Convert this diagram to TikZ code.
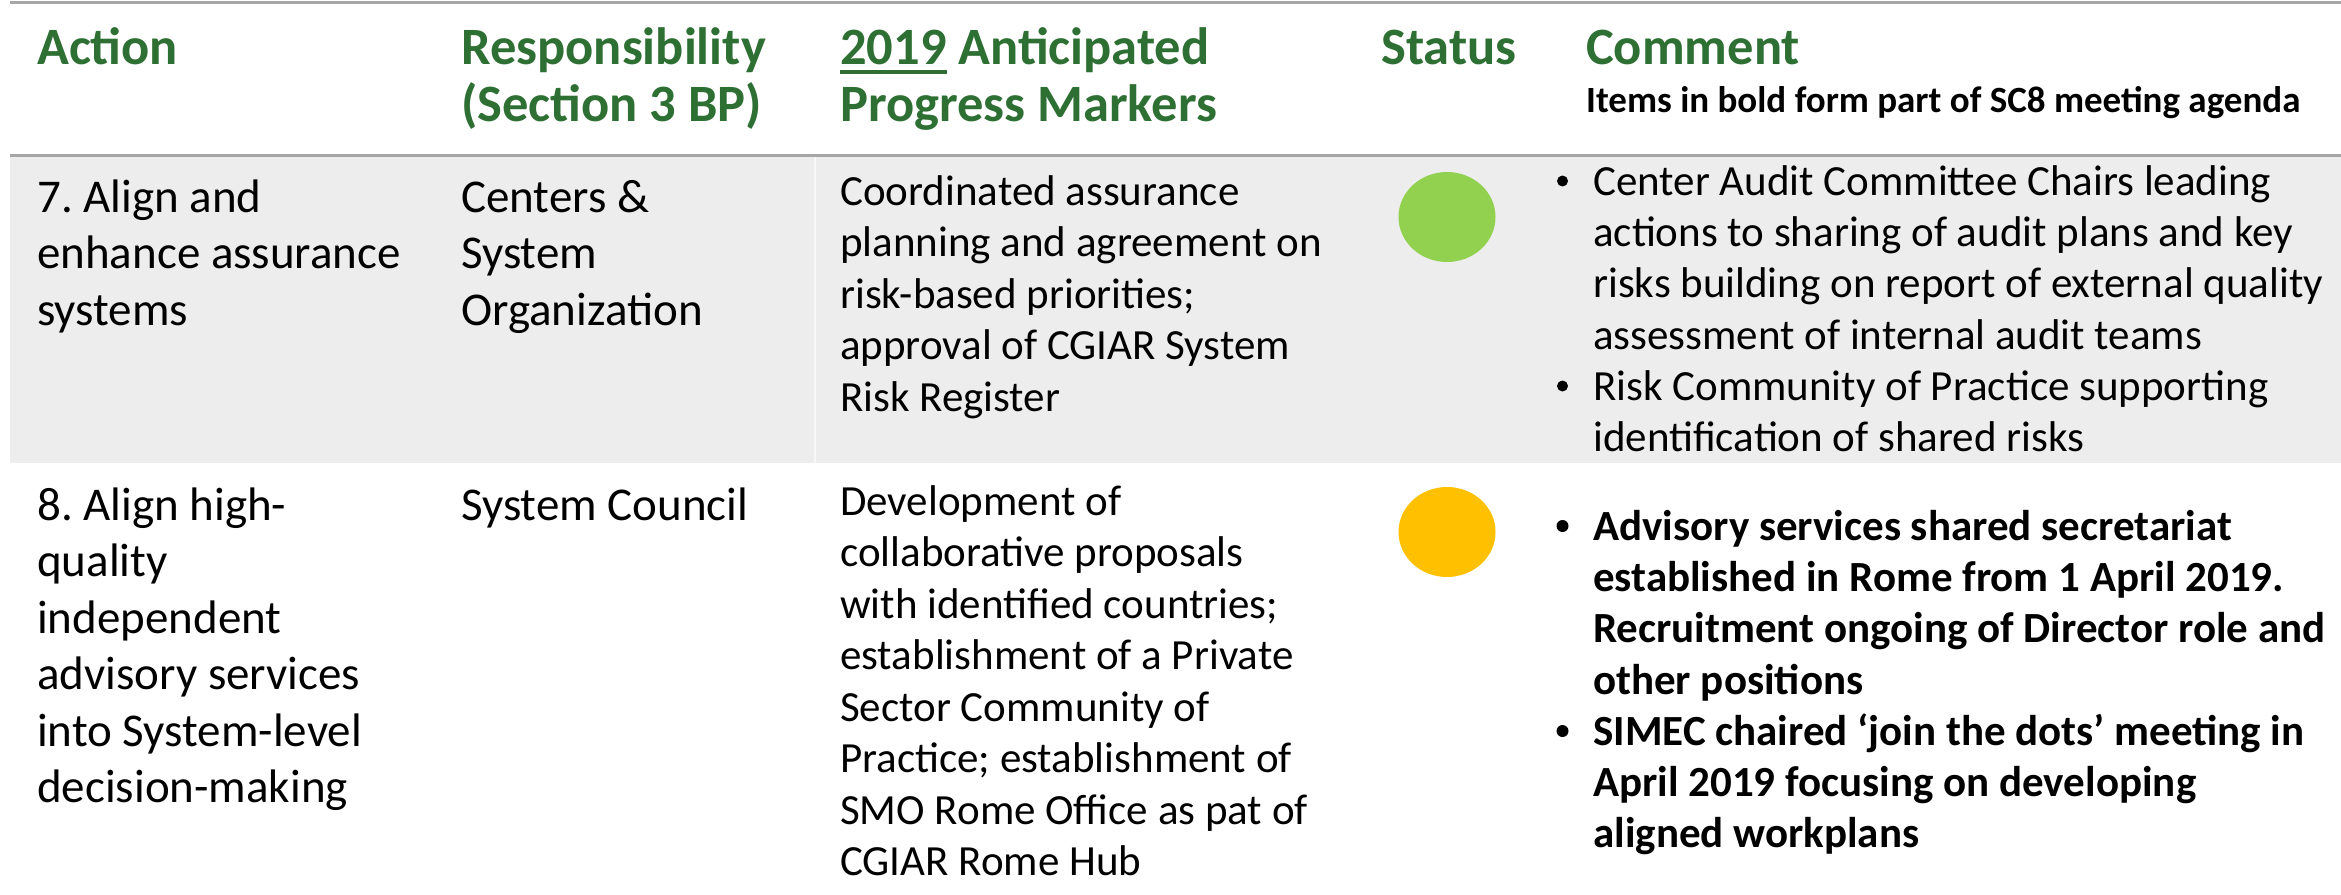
\documentclass[tikz,border=0pt]{standalone}
\usepackage{fontspec}
\setmainfont{Carlito}
\frenchspacing
\usetikzlibrary{shapes.geometric}
\definecolor{hdrgreen}{RGB}{46,111,51}
\definecolor{rowgray}{RGB}{237,237,237}
\definecolor{rulegray}{RGB}{166,166,166}
\definecolor{stgreen}{RGB}{146,208,80}
\definecolor{stamber}{RGB}{255,192,0}
\newcommand\ulyear[1]{\mbox{\setbox0\hbox{#1}\rlap{\rule[-9.3pt]{\wd0}{3.3pt}}\box0}}
\begin{document}
\begin{tikzpicture}[x=1pt,y=-1pt,
  hdr/.style={anchor=base west, inner sep=0pt, text=hdrgreen, font=\fontsize{52.5}{57}\selectfont\bfseries},
  hdrm/.style={anchor=north west, inner sep=0pt, align=left, text=hdrgreen, font=\fontsize{52.5}{57}\selectfont\bfseries},
  body/.style={anchor=north west, inner sep=0pt, align=left, font=\fontsize{47}{56.5}\selectfont},
  pmk/.style={anchor=north west, inner sep=0pt, align=left, font=\fontsize{43}{51.5}\selectfont},
  cmt/.style={anchor=north west, inner sep=0pt, align=left, font=\fontsize{43}{51.3}\selectfont},
  bul/.style={circle, fill=black, draw=none, minimum size=11pt, inner sep=0pt},
  stdot/.style={ellipse, draw=none, minimum width=97pt, minimum height=90pt, inner sep=0pt}
]
\useasboundingbox (0,0) rectangle (2341,894);
\fill[white] (0,0) rectangle (2341,894);
% row background and rules
\fill[rowgray] (10,156) rectangle (2341,463);
\draw[white!55!rowgray, line width=1.2pt] (815,156) -- (815,463);
\draw[rulegray, line width=3pt] (10,2) -- (2341,2);
\draw[rulegray, line width=3pt] (10,155) -- (2341,155);
% header
\node[hdr] (hA) at (37,64) {Action};
\node[hdrm] (hR) at (461,24.1) {\strut Responsibility\\(Section 3 BP)};
\node[hdrm] (hP) at (840,24.1) {\strut\ulyear{2019} Anticipated\\Progress Markers};
\node[hdr] (hS) at (1381,64) {Status};
\node[hdr] (hC) at (1586,64) {Comment};
\node[anchor=base west, inner sep=0pt, font=\fontsize{37}{42}\selectfont\bfseries] (hN) at (1586,112) {Items in bold form part of SC8 meeting agenda};
% row 7
\node[body] (a7) at (37,172.45) {\strut 7. Align and\\enhance assurance\\systems};
\node[body] (r7) at (461,172.45) {\strut Centers \&\\System\\Organization};
\node[pmk] (p7) at (840,168.95) {\strut Coordinated assurance\\planning and agreement on\\risk-based priorities;\\approval of CGIAR System\\Risk Register};
\node[stdot, fill=stgreen] (s7) at (1447,217) {};
\node[bul] (b7a) at (1562.5,181) {};
\node[cmt] (c7a) at (1593,159.1) {\strut Center Audit Committee Chairs leading\\actions to sharing of audit plans and key\\risks building on report of external quality\\assessment of internal audit teams};
\node[bul] (b7b) at (1562.5,386) {};
\node[cmt] (c7b) at (1593,364.1) {\strut Risk Community of Practice supporting\\identification of shared risks};
% row 8
\node[body] (a8) at (37,480.45) {\strut 8. Align high-\\quality\\independent\\advisory services\\into System-level\\decision-making};
\node[body] (r8) at (461,480.45) {\strut System Council};
\node[pmk] (p8) at (840,478.95) {\strut Development of\\collaborative proposals\\with identified countries;\\establishment of a Private\\Sector Community of\\Practice; establishment of\\SMO Rome Office as pat of\\CGIAR Rome Hub};
\node[stdot, fill=stamber] (s8) at (1447,532) {};
\node[bul, minimum size=12pt] (b8a) at (1562.5,526) {};
\node[cmt, font=\fontsize{43}{51.3}\selectfont\bfseries] (c8a) at (1593,504.1) {\strut Advisory services shared secretariat\\established in Rome from 1 April 2019.\\Recruitment ongoing of Director role and\\other positions};
\node[bul, minimum size=12pt] (b8b) at (1562.5,731) {};
\node[cmt, font=\fontsize{43}{51.3}\selectfont\bfseries] (c8b) at (1593,709.1) {\strut SIMEC chaired ‘join the dots’ meeting in\\April 2019 focusing on developing\\aligned workplans};
\end{tikzpicture}
\end{document}
